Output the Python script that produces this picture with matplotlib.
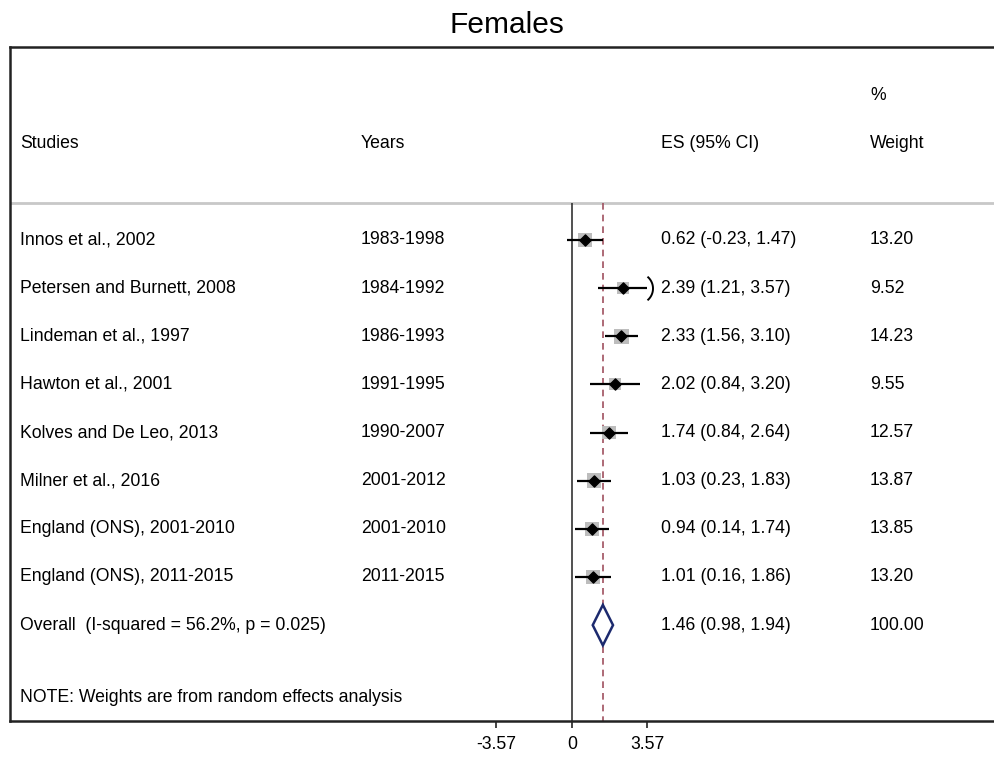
"""Forest plot: female effect sizes with random-effects weights."""

import matplotlib

matplotlib.use("Agg")
import matplotlib.pyplot as plt
import numpy as np
from matplotlib.path import Path
from matplotlib.transforms import blended_transform_factory

plt.rcParams["font.family"] = ["Liberation Sans", "DejaVu Sans"]

studies = [
    "Innos et al., 2002",
    "Petersen and Burnett, 2008",
    "Lindeman et al., 1997",
    "Hawton et al., 2001",
    "Kolves and De Leo, 2013",
    "Milner et al., 2016",
    "England (ONS), 2001-2010",
    "England (ONS), 2011-2015",
]
years = [
    "1983-1998", "1984-1992", "1986-1993", "1991-1995",
    "1990-2007", "2001-2012", "2001-2010", "2011-2015",
]
es = [0.62, 2.39, 2.33, 2.02, 1.74, 1.03, 0.94, 1.01]
ci_low = [-0.23, 1.21, 1.56, 0.84, 0.84, 0.23, 0.14, 0.16]
ci_high = [1.47, 3.57, 3.10, 3.20, 2.64, 1.83, 1.74, 1.86]
weights = [13.20, 9.52, 14.23, 9.55, 12.57, 13.87, 13.85, 13.20]

overall_label = "Overall  (I-squared = 56.2%, p = 0.025)"
overall_es, overall_low, overall_high = 1.46, 0.98, 1.94
overall_weight = 100.00
note = "NOTE: Weights are from random effects analysis"

x_ticks = [-3.57, 0, 3.57]
x_max = 3.57  # CIs reaching this are drawn clipped

FS = 12.7
fig = plt.figure(figsize=(9.95, 7.57), dpi=100)
ax = fig.add_axes([10 / 995, 1 - 721 / 757, 985 / 995, 674 / 757])

px_per_unit = 75.5 / 3.57
ax.set_xlim((10 - 572) / px_per_unit, (995 - 572) / px_per_unit)
row_px = 48.14
ax.set_ylim((721 - 240) / row_px, (47 - 240) / row_px)
y_bottom = ax.get_ylim()[0]

for side in ["top", "left", "bottom"]:
    ax.spines[side].set_linewidth(1.8)
    ax.spines[side].set_color("#222222")
ax.spines["right"].set_visible(False)
ax.set_yticks([])
ax.set_xticks(x_ticks)
ax.set_xticklabels(["-3.57", "0", "3.57"])
ax.tick_params(axis="x", length=5, width=1.2, pad=6, labelsize=FS,
               color="#222222")

sep_y = -0.77
ax.axhline(sep_y, color="#c8c8c8", lw=2)
ax.vlines(0, sep_y, y_bottom, colors="#333333", lw=1.2)
ax.vlines(overall_es, sep_y, y_bottom, colors="#a0505f", lw=1.2,
          linestyles=(0, (4, 3)))

rows = np.arange(len(studies))
side_pt = 3.9 * np.sqrt(weights) * 0.72
ax.scatter(es, rows, s=side_pt ** 2, marker="s", color="#bdbdbd",
           linewidths=0, zorder=2)
ax.hlines(rows, ci_low, ci_high, colors="black", lw=1.6, zorder=3)
ax.scatter(es, rows, s=32, marker="D", color="black", zorder=4)

# clip bracket for intervals that run past the axis
t = np.radians(np.linspace(-50, 50, 25))
bracket = Path(np.column_stack([np.cos(t) - np.cos(t[0]), np.sin(t)]))
clipped = [r for r, h in zip(rows, ci_high) if h >= x_max]
ax.plot([x_max] * len(clipped), clipped, linestyle="none", marker=bracket,
        ms=17, mfc="none", mec="black", mew=1.4, zorder=4)

r_all = len(studies)
half_h = 0.42
ax.fill([overall_low, overall_es, overall_high, overall_es],
        [r_all, r_all - half_h, r_all, r_all + half_h],
        facecolor="white", edgecolor="#1c2a6e", lw=1.8, zorder=4)

tr = blended_transform_factory(ax.transAxes, ax.transData)
col_study, col_years, col_es, col_wt = 0.0102, 0.356, 0.661, 0.873

head_y = -2.0
for x, label in [(col_study, "Studies"), (col_years, "Years"),
                 (col_es, "ES (95% CI)"), (col_wt, "Weight")]:
    ax.text(x, head_y, label, transform=tr, fontsize=FS, va="center")
ax.text(col_wt, -3.01, "%", transform=tr, fontsize=FS, va="center")

for r in rows:
    ax.text(col_study, r, studies[r], transform=tr, fontsize=FS, va="center")
    ax.text(col_years, r, years[r], transform=tr, fontsize=FS, va="center")
    ax.text(col_es, r, f"{es[r]:.2f} ({ci_low[r]:.2f}, {ci_high[r]:.2f})",
            transform=tr, fontsize=FS, va="center")
    ax.text(col_wt, r, f"{weights[r]:.2f}", transform=tr, fontsize=FS,
            va="center")

ax.text(col_study, r_all, overall_label, transform=tr, fontsize=FS,
        va="center")
ax.text(col_es, r_all,
        f"{overall_es:.2f} ({overall_low:.2f}, {overall_high:.2f})",
        transform=tr, fontsize=FS, va="center")
ax.text(col_wt, r_all, f"{overall_weight:.2f}", transform=tr, fontsize=FS,
        va="center")
ax.text(col_study, 9.51, note, transform=tr, fontsize=FS, va="center")

fig.text(507 / 995, 1 - 25 / 757, "Females", fontsize=21.5, ha="center",
         va="center")

fig.savefig("out.png", dpi=100)
